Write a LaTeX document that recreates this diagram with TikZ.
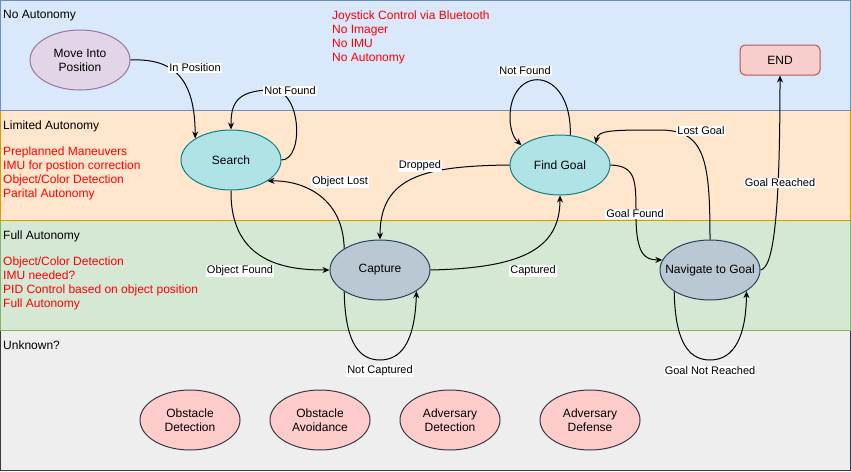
\documentclass[tikz,border=0pt]{standalone}
\usepackage{fontspec}
\setmainfont{Liberation Sans}
\usepackage{xcolor}
\usetikzlibrary{shapes.geometric, arrows.meta, positioning}

\definecolor{bluefill}{HTML}{DAE8FC}
\definecolor{blueline}{HTML}{6C8EBF}
\definecolor{orangefill}{HTML}{FFE6CC}
\definecolor{orangeline}{HTML}{D79B00}
\definecolor{greenfill}{HTML}{D5E8D4}
\definecolor{greenline}{HTML}{82B366}
\definecolor{grayfill}{HTML}{EEEEEE}
\definecolor{grayline}{HTML}{36393D}
\definecolor{purplefill}{HTML}{E1D5E7}
\definecolor{purpleline}{HTML}{9673A6}
\definecolor{tealfill}{HTML}{B0E3E6}
\definecolor{tealline}{HTML}{0E8088}
\definecolor{slatefill}{HTML}{BAC8D3}
\definecolor{slateline}{HTML}{23445D}
\definecolor{pinkfill}{HTML}{FFCCCC}
\definecolor{pinkline}{HTML}{36393D}
\definecolor{redfill}{HTML}{F8CECC}
\definecolor{redline}{HTML}{B85450}
\definecolor{notered}{HTML}{FF0000}

\begin{document}
\begin{tikzpicture}[
    x=1pt, y=-1pt,
    every node/.style={font=\fontsize{12}{14}\selectfont},
    lane/.style={fill=#1fill, draw=#1line, line width=1pt},
    lanetitle/.style={anchor=north west, inner sep=0pt},
    note/.style={anchor=north west, inner sep=0pt, align=left, text=notered},
    state/.style={ellipse, fill=#1fill, draw=#1line, line width=1pt, minimum width=100pt, minimum height=60pt, inner sep=0pt, align=center},
    lbl/.style={fill=white, inner sep=1pt, font=\fontsize{11}{13}\selectfont},
    arrow/.style={-{Stealth[length=7pt,width=6pt]}, line width=1pt}
]
\useasboundingbox (0,0) rectangle (851,471);

% Autonomy lanes
\draw[lane=gray] (0.5,330.5) rectangle (850.5,470.5);
\draw[lane=green] (0.5,220.5) rectangle (850.5,330.5);
\draw[lane=orange] (0.5,110.5) rectangle (850.5,220.5);
\draw[lane=blue] (0.5,0.5) rectangle (850.5,110.5);

\node[lanetitle] (tnone) at (3,10.5) {No Autonomy};
\node[lanetitle] (tlimited) at (3,120.5) {Limited Autonomy};
\node[lanetitle] (tfull) at (3,230.5) {Full Autonomy};
\node[lanetitle] (tunknown) at (3,340.5) {Unknown?};

\node[note] (nnone) at (332,11) {Joystick Control via Bluetooth\\No Imager\\No IMU\\No Autonomy};
\node[note] (nlimited) at (3,146.5) {Preplanned Maneuvers\\IMU for postion correction\\Object/Color Detection\\Parital Autonomy};
\node[note] (nfull) at (3,256.5) {Object/Color Detection\\IMU needed?\\PID Control based on object position\\Full Autonomy};

% States
\node[state=purple] (move) at (80,60) {Move Into\\Position};
\node[state=teal] (search) at (231,160) {Search};
\node[state=teal] (findgoal) at (560,165) {Find Goal};
\node[state=slate] (capture) at (380,270) {Capture};
\node[state=slate] (navigate) at (710,270) {\makebox[0pt]{Navigate to Goal}};
\node[rectangle, rounded corners=5pt, fill=redfill, draw=redline, line width=1pt, minimum width=80pt, minimum height=30pt] (stop) at (780,60) {END};

% Future states
\node[state=pink] (obsdet) at (190,420) {Obstacle\\Detection};
\node[state=pink] (obsavoid) at (320,420) {Obstacle\\Avoidance};
\node[state=pink] (advdet) at (450,420) {Adversary\\Detection};
\node[state=pink] (advdef) at (590,420) {Adversary\\Defense};

% Arrows
\draw[arrow] (move.east) .. controls (175,58) and (195,80) .. (search.149);
\draw[arrow] (search.east) .. controls (304,160) and (302,90) .. (272,90) .. controls (235,90) and (231,105) .. (search.north);
\draw[arrow] (search.south) .. controls (230,265) and (290,270) .. (capture.west);
\draw[arrow] (capture.149) .. controls (343,195) and (300,180) .. (search.330);
\draw[arrow] (capture.211) .. controls (345,335) and (355,360) .. (380,360) .. controls (405,360) and (415,335) .. (capture.330);
\draw[arrow] (capture.east) .. controls (520,268) and (560,250) .. (findgoal.south);
\draw[arrow] (findgoal.west) .. controls (425,166) and (380,176) .. (capture.north);
\draw[arrow] (findgoal.71) .. controls (572,64) and (508,64) .. (510,120) .. controls (511,135) and (516,140) .. (findgoal.153);
\draw[arrow] (findgoal.east) .. controls (636,166) and (636,180) .. (636,215) .. controls (636,255) and (645,260) .. (navigate.168);
\draw[arrow] (navigate.north) .. controls (710,160) and (705,130) .. (660,130) .. controls (612,130) and (598,130) .. (findgoal.31);
\draw[arrow] (navigate.211) .. controls (675,335) and (685,360) .. (710,360) .. controls (735,360) and (746,335) .. (navigate.330);
\draw[arrow] (navigate.east) .. controls (773,268) and (780,220) .. (stop.south);

% Edge labels
\node[lbl] (lpos) at (195,68) {In Position};
\node[lbl] (lnf1) at (290,91) {Not Found};
\node[lbl] (lfound) at (240,271) {Object Found};
\node[lbl] (llost) at (340,182) {Object Lost};
\node[lbl] (lnotcap) at (380,371) {Not Captured};
\node[lbl] (lcap) at (533,271) {Captured};
\node[lbl] (ldrop) at (420,166) {Dropped};
\node[lbl] (lnf2) at (525,71) {Not Found};
\node[lbl] (lgf) at (635,214) {Goal Found};
\node[lbl] (llg) at (701,131) {Lost Goal};
\node[lbl] (lgnr) at (710,371) {Goal Not Reached};
\node[lbl] (lgr) at (780,183) {Goal Reached};

\end{tikzpicture}
\end{document}
